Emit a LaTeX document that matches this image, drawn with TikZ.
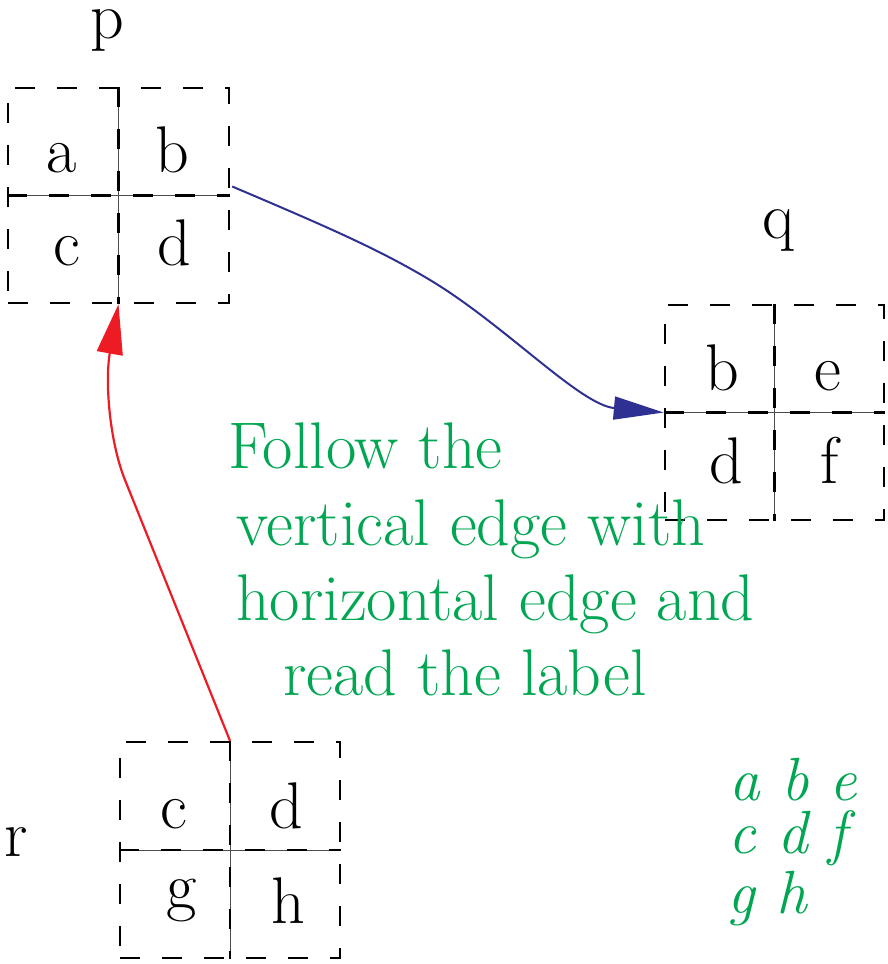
\documentclass[tikz,border=0pt]{standalone}
\usetikzlibrary{arrows.meta}
\definecolor{tgreen}{HTML}{00A651}
\definecolor{tblue}{HTML}{2E3192}
\definecolor{tred}{HTML}{ED1C24}
\tikzset{
  cell/.style={draw=black, line width=2.4pt, dash pattern=on 20pt off 22pt, rectangle, inner sep=0pt},
  divthin/.style={draw=black!70, line width=1pt},
  divdash/.style={draw=black, line width=2.4pt, dash pattern=on 20pt off 22pt},
  lt/.style={anchor=base, inner sep=0pt, font=\fontsize{66}{72}\selectfont},
  gt/.style={anchor=base west, inner sep=0pt, text=tgreen, text height=44pt, text depth=12pt, font=\fontsize{66}{76}\selectfont},
  gi/.style={anchor=base west, inner sep=0pt, text=tgreen, text height=28pt, text depth=0pt, font=\fontsize{61}{70}\selectfont\itshape},
}
\begin{document}
\begin{tikzpicture}[x=1pt, y=-1pt]
\useasboundingbox (0,0) rectangle (887,964);
% boxes
\node[cell, minimum width=221pt, minimum height=215pt] (p) at (118.5,195.5) {};
\node[cell, minimum width=219pt, minimum height=215pt] (q) at (774.5,412.5) {};
\node[cell, minimum width=220pt, minimum height=216pt] (r) at (230,850) {};
\foreach \b in {p,q,r}{
  \draw[divthin] (\b.north) -- (\b.south);
  \draw[divthin] (\b.west) -- (\b.east);
  \draw[divdash] (\b.north) -- (\b.south);
  \draw[divdash] (\b.west) -- (\b.east);
}
% box labels
\node[lt] (pa) at (62,172) {a};
\node[lt] (pb) at (172,172) {b};
\node[lt] (pc) at (67,265) {c};
\node[lt] (pd) at (174,265) {d};
\node[lt] (qb) at (722,390) {b};
\node[lt] (qe) at (828,390) {e};
\node[lt] (qd) at (726,483) {d};
\node[lt] (qf) at (830,483) {f};
\node[lt] (rc) at (174,828) {c};
\node[lt] (rd) at (286,828) {d};
\node[lt] (rg) at (182,908) {g};
\node[lt] (rh) at (288,923) {h};
% names
\node[lt, text height=28pt] (lp) at (107,38) {p};
\node[lt] (lq) at (778,238) {q};
\node[lt] (lr) at (16,856) {r};
% connectors
\draw[tblue, line width=2pt, -{Triangle[length=50pt, width=23pt]}]
  (p.east) ++(2,-9) .. controls (330,228) and (380,250) .. (430,280)
  .. controls (505,325) and (580,405) .. (q.west);
\draw[tred, line width=2.2pt, -{Triangle[length=50pt, width=26pt]}]
  (r.north) -- (125,480) .. controls (109,440) and (105,380) .. (p.south);
% text
\node[gt] (t1) at (228,468) {Follow the};
\node[gt] (t2) at (236,545) {vertical edge with};
\node[gt] (t3) at (236,620) {horizontal edge and};
\node[gt] (t4) at (283,695) {read the label};
\node[gi] (s1) at (729,800) {a b e};
\node[gi] (s2) at (728,853) {c d f};
\node[gi] (s3) at (727,913) {g h};
\end{tikzpicture}
\end{document}
